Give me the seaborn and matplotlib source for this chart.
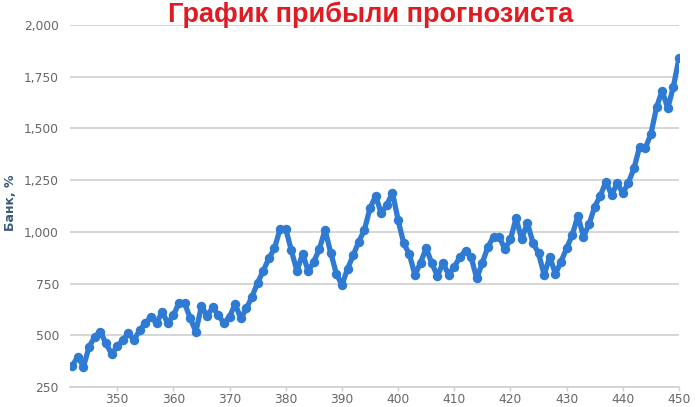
import matplotlib
matplotlib.use("Agg")
import matplotlib.pyplot as plt
import matplotlib.ticker as mticker
import seaborn as sns
import pandas as pd

start = 342
bank = [353, 396, 348, 445, 493, 517, 461, 410, 446, 477,
        510, 477, 525, 558, 590, 558, 614, 558, 598, 655,
        655, 582, 517, 642, 593, 635, 598, 558, 590, 651,
        582, 630, 687, 754, 812, 872, 921, 1015, 1015, 910,
        810, 895, 810, 856, 918, 1010, 900, 798, 743, 821,
        886, 953, 1009, 1114, 1174, 1090, 1130, 1190, 1057, 945,
        892, 792, 851, 921, 848, 787, 851, 792, 832, 877,
        909, 877, 775, 851, 928, 977, 977, 916, 964, 1066,
        964, 1044, 948, 896, 792, 880, 796, 856, 921, 985,
        1077, 977, 1038, 1122, 1175, 1243, 1178, 1235, 1187, 1238,
        1308, 1412, 1404, 1473, 1602, 1683, 1597, 1702, 1839]
rounds = list(range(start, start + len(bank)))

title = "График прибыли прогнозиста"
ylabel = "Банк, %"
yticks = [250, 500, 750, 1000, 1250, 1500, 1750, 2000]
xticks = [350, 360, 370, 380, 390, 400, 410, 420, 430, 440, 450]

df = pd.DataFrame({"round": rounds, "bank": bank})

sns.set_theme(style="white")
plt.rcParams["font.family"] = ["DejaVu Sans"]

fig = plt.figure(figsize=(6.96, 4.07), dpi=100)
ax = fig.add_axes([70 / 696, 1 - 387 / 407, (679 - 70) / 696, (387 - 25) / 407])

sns.lineplot(data=df, x="round", y="bank", ax=ax, color="#2f7bd3",
             linewidth=3.8, marker="o", markersize=6.8,
             markeredgecolor="#2f7bd3", markeredgewidth=0, zorder=3)

ax.set_xlim(341.6, 450)
ax.set_ylim(250, 2000)
ax.set_yticks(yticks)
ax.set_xticks(xticks)
ax.yaxis.set_major_formatter(mticker.FuncFormatter(lambda v, p: f"{int(v):,}"))
ax.grid(axis="y", color="#cfcfcf", linewidth=1.2)
ax.grid(axis="x", visible=False)
for s in ["top", "right", "left"]:
    ax.spines[s].set_visible(False)
ax.spines["bottom"].set_color("#cfcfcf")
ax.spines["bottom"].set_linewidth(1.2)
ax.tick_params(axis="x", colors="#666666", labelsize=8.8, length=3, width=1,
               color="#cfcfcf", pad=1.5, direction="out", bottom=True)
ax.tick_params(axis="y", colors="#666666", labelsize=8.8, length=0, pad=8)
ax.set_xlabel("")
ax.set_ylabel(ylabel, color="#3c5a7a", fontsize=9, fontweight="bold",
              va="center", ha="center")
ax.yaxis.set_label_coords((11 - 70) / 609, 0.51)

fig.text(0.532, 0.963, title, ha="center", va="center", color="#e01b22",
         fontsize=19.5, fontweight="bold", family="Liberation Sans")

fig.savefig("out.png", dpi=100)
